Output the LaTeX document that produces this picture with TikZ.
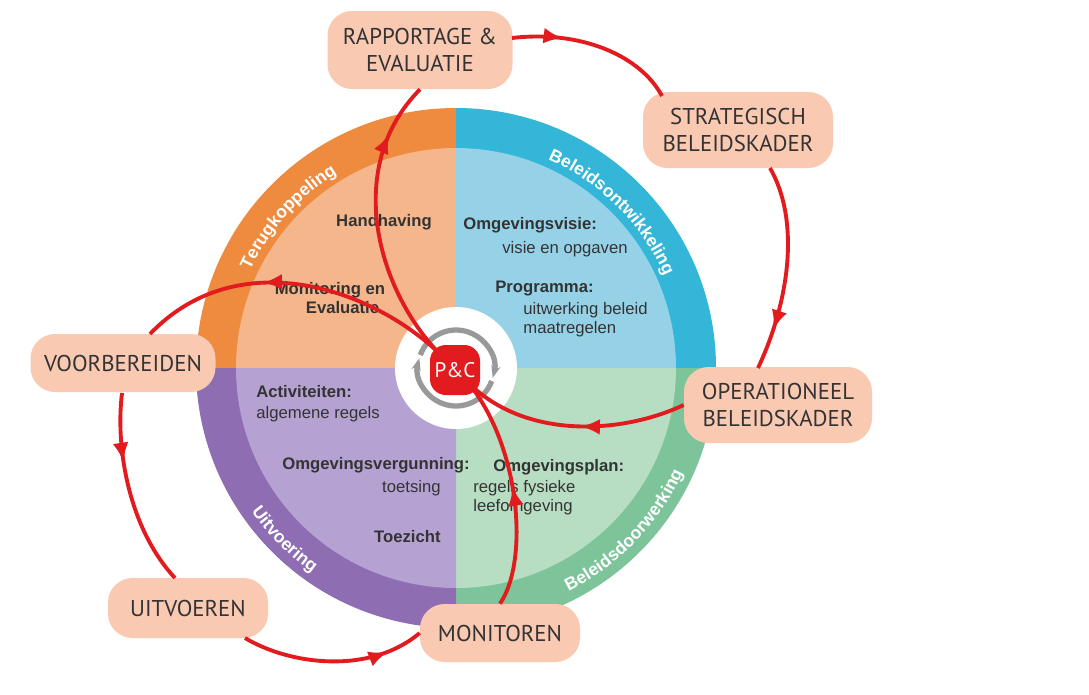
\documentclass[tikz,border=0pt]{standalone}
\usepackage{fontspec}
\setmainfont{Liberation Sans}
\newfontfamily\boxfont{PT Sans}
\usetikzlibrary{arrows.meta,decorations.text,decorations.markings}
\definecolor{orD}{HTML}{EE8B3E}\definecolor{orL}{HTML}{F6B68C}
\definecolor{blD}{HTML}{33B6D8}\definecolor{blL}{HTML}{95D2E8}
\definecolor{grD}{HTML}{7EC49B}\definecolor{grL}{HTML}{B7DDC2}
\definecolor{puD}{HTML}{8E6DB2}\definecolor{puL}{HTML}{B5A2D3}
\definecolor{peach}{HTML}{F9C9B2}\definecolor{pcred}{HTML}{E11B1E}
\definecolor{txt}{HTML}{333333}
\tikzset{
 stage/.style={draw=none,fill=peach,rounded corners=14pt,align=center,font=\boxfont\fontsize{13}{15}\selectfont,text=txt,inner sep=4pt},
 flow/.style={draw=pcred,line width=2.2pt},
 mid/.style={postaction={decorate,decoration={markings,mark=at position #1 with {\arrow{Latex[length=11pt,width=9pt]}}}}},
 bold/.style={font=\bfseries\fontsize{9.5}{11}\selectfont,text=txt,inner sep=0pt},
 reg/.style={font=\fontsize{9.5}{11}\selectfont,text=txt,inner sep=0pt},
 ringtxt/.style={decorate,decoration={text along path,text align=center,text={|\bfseries\fontsize{10}{12}\selectfont\color{white}|#1}}}
}
\begin{document}
\begin{tikzpicture}[x=0.02cm,y=-0.02cm]
\useasboundingbox (0,0) rectangle (1089,694);
\fill[white] (0,0) rectangle (1089,694);
% wheel
\begin{scope}[shift={(456,368)},yscale=-1]
 \fill[orD] (0,0) -- (90:260) arc (90:180:260) -- cycle;
 \fill[blD] (0,0) -- (0:260) arc (0:90:260) -- cycle;
 \fill[grD] (0,0) -- (270:260) arc (270:360:260) -- cycle;
 \fill[puD] (0,0) -- (180:260) arc (180:270:260) -- cycle;
 \fill[orL] (0,0) -- (90:220) arc (90:180:220) -- cycle;
 \fill[blL] (0,0) -- (0:220) arc (0:90:220) -- cycle;
 \fill[grL] (0,0) -- (270:220) arc (270:360:220) -- cycle;
 \fill[puL] (0,0) -- (180:220) arc (180:270:220) -- cycle;
 \path[ringtxt=Terugkoppeling] (168:228) arc (168:108:228);
 \path[ringtxt=Beleidsontwikkeling] (80:228) arc (80:10:228);
 \path[ringtxt=Uitvoering] (200:250) arc (200:250:250);
 \path[ringtxt=Beleidsdoorwerking] (282:250) arc (282:350:250);
 \fill[white] (0,0) circle (61);
 \draw[color=gray!80,line width=3pt,-{Stealth[length=7pt]}] (160:38) arc (160:-15:38);
 \draw[color=gray!80,line width=3pt,-{Stealth[length=7pt]}] (-20:38) arc (-20:-195:38);
\end{scope}
\node[fill=pcred,rounded corners=9pt,minimum size=50*0.02cm,text=white,font=\boxfont\fontsize{12}{14}\selectfont,inner sep=0pt] (pc) at (455,370) {P\&C};
\coordinate (pcA) at (448,362);
\coordinate (pcB) at (464,378);
% inner texts
\node[bold] (hh) at (384,222) {Handhaving};
\node[bold,align=center] (me) at (330,298) {Monitoring en\\\hspace*{1.5em}Evaluatie};
\node[bold,anchor=west] (ov) at (463,225) {Omgevingsvisie:};
\node[reg,anchor=west] (ov2) at (502,249) {visie en opgaven};
\node[bold,anchor=west] (pr) at (495,289) {Programma:};
\node[reg,anchor=west,align=left] (pr2) at (523,320) {uitwerking beleid\\maatregelen};
\node[bold,anchor=west] (ac) at (256,392) {Activiteiten:};
\node[reg,anchor=west] (ac2) at (256,414) {algemene regels};
\node[bold,anchor=east] (ovg) at (470,465) {Omgevingsvergunning:};
\node[reg,anchor=east] (ovg2) at (441,488) {toetsing};
\node[bold,anchor=east] (tz) at (441,537) {Toezicht};
\node[bold,anchor=west] (op) at (493,467) {Omgevingsplan:};
\node[reg,anchor=west,align=left] (op2) at (473,498) {regels fysieke\\leefomgeving};
% stages
\node[stage,minimum width=185*0.02cm,minimum height=78*0.02cm] (rap) at (420,50) {RAPPORTAGE \&\\EVALUATIE};
\node[stage,minimum width=190*0.02cm,minimum height=76*0.02cm] (str) at (738,130) {STRATEGISCH\\BELEIDSKADER};
\node[stage,minimum width=188*0.02cm,minimum height=76*0.02cm] (ope) at (778,405) {OPERATIONEEL\\BELEIDSKADER};
\node[stage,minimum width=185*0.02cm,minimum height=58*0.02cm] (voo) at (123,363) {VOORBEREIDEN};
\node[stage,minimum width=160*0.02cm,minimum height=60*0.02cm] (uit) at (188,608) {UITVOEREN};
\node[stage,minimum width=160*0.02cm,minimum height=58*0.02cm] (mon) at (500,633) {MONITOREN};
% flows
\coordinate (rapOut) at (512,38);
\coordinate (strIn) at (662,96);
\coordinate (strOut) at (770,168);
\coordinate (opeIn) at (758,368);
\coordinate (vooIn) at (150,334);
\coordinate (vooOut) at (122,393);
\coordinate (uitIn) at (175,578);
\coordinate (uitOut) at (245,638);
\draw[flow,mid=0.3] (rapOut) .. controls (580,30) and (640,55) .. (strIn);
\draw[flow,mid=0.8] (strOut) .. controls (800,220) and (790,300) .. (opeIn);
\draw[flow,mid=0.45] (ope.west) .. controls (620,435) and (520,440) .. (pcB);
\draw[flow,mid=0.5] (mon.north) .. controls (530,560) and (520,440) .. (pcB);
\draw[flow,mid=0.82] (pcA) .. controls (380,300) and (340,170) .. (rap.south);
\draw[flow,mid=0.62] (pcA) .. controls (380,290) and (240,240) .. (vooIn);
\draw[flow,mid=0.35] (vooOut) .. controls (115,450) and (130,530) .. (uitIn);
\draw[flow,mid=0.8] (uitOut) .. controls (290,665) and (370,675) .. (mon.west);
\end{tikzpicture}
\end{document}
